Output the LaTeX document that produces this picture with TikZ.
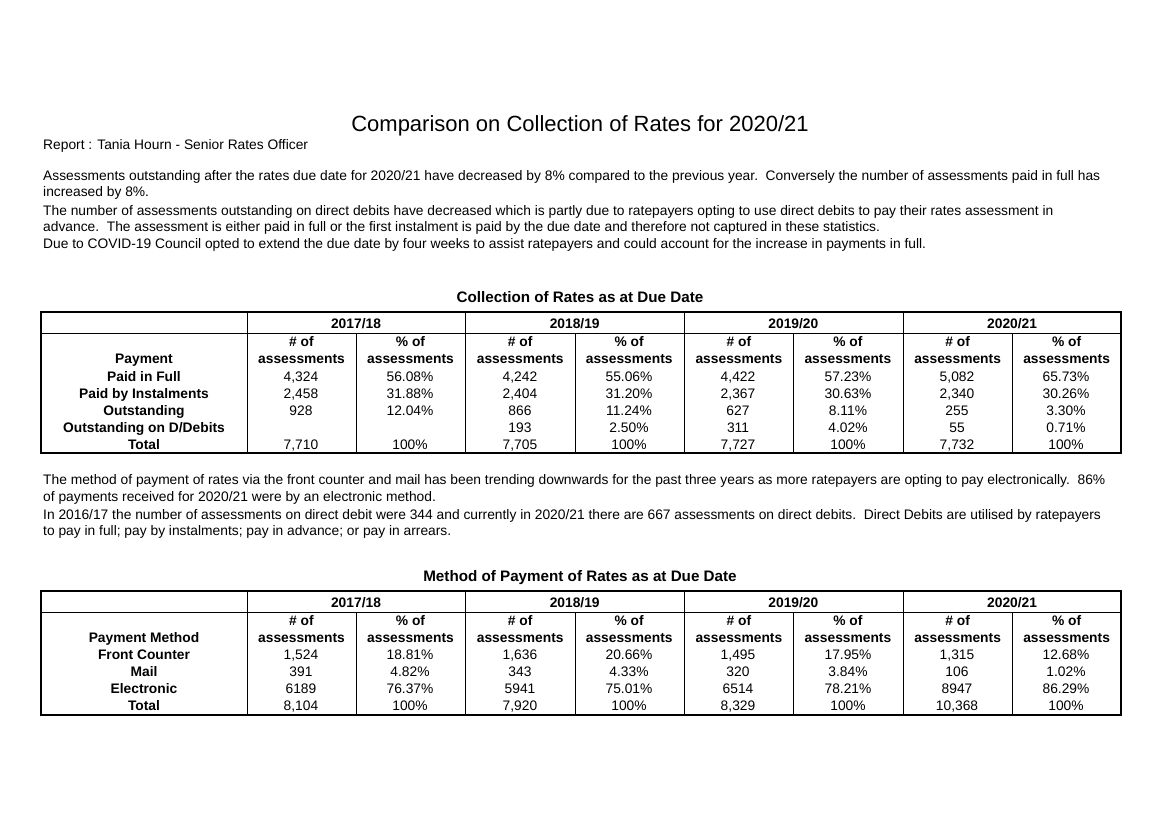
\documentclass[tikz,border=0pt]{standalone}
\usepackage{fontspec}
\setmainfont{Liberation Sans}
\begin{document}
\begin{tikzpicture}[x=1pt,y=-1pt,
  txt/.style={anchor=base west,inner sep=0pt,font=\fontsize{13.8}{16}\selectfont},
  cell/.style={anchor=base,inner sep=0pt,font=\fontsize{13.8}{16}\selectfont},
  bcell/.style={cell,font=\fontsize{13.8}{16}\selectfont\bfseries},
  ttlcell/.style={cell,font=\fontsize{15.2}{17}\selectfont\bfseries},
  grid/.style={line width=0.8pt},
  frame/.style={line width=1.3pt}]
\useasboundingbox[fill=white] (0,0) rectangle (1162,821);
\node[anchor=base,inner sep=0pt,font=\fontsize{22}{26}\selectfont] (title) at (580,132) {Comparison on Collection of Rates for 2020/21};
\node[txt] (rep) at (43,150) {Report : Tania Hourn - Senior Rates Officer};
\node[txt] (p1) at (43,181) {Assessments outstanding after the rates due date for 2020/21 have decreased by 8\% compared to the previous year.\ \ Conversely the number of assessments paid in full has};
\node[txt] (p2) at (43,197) {increased by 8\%.};
\node[txt] (p3) at (43,216) {The number of assessments outstanding on direct debits have decreased which is partly due to ratepayers opting to use direct debits to pay their rates assessment in};
\node[txt] (p4) at (43,232) {advance.\ \ The assessment is either paid in full or the first instalment is paid by the due date and therefore not captured in these statistics.};
\node[txt] (p5) at (43,248) {Due to COVID-19 Council opted to extend the due date by four weeks to assist ratepayers and could account for the increase in payments in full.};
\node[txt] (q1) at (43,484) {The method of payment of rates via the front counter and mail has been trending downwards for the past three years as more ratepayers are opting to pay electronically.\ \ 86\%};
\node[txt] (q2) at (43,501) {of payments received for 2020/21 were by an electronic method.};
\node[txt] (q3) at (43,519) {In 2016/17 the number of assessments on direct debit were 344 and currently in 2020/21 there are 667 assessments on direct debits.\ \ Direct Debits are utilised by ratepayers};
\node[txt] (q4) at (43,535) {to pay in full; pay by instalments; pay in advance; or pay in arrears.};
\foreach \T/\top/\mid/\bot/\ttl in {1/312/333/453/Collection of Rates as at Due Date, 2/591/612/715/Method of Payment of Rates as at Due Date}{
  \node[ttlcell] (tt\T) at (580,\top-10) {\ttl};
  \draw[frame] (41,\top) rectangle (1121,\bot);
  \draw[grid] (41,\mid) -- (1121,\mid);
  \foreach \c in {247,465,684,903} \draw[grid] (\c,\top) -- (\c,\bot);
  \foreach \c in {356,575,793,1012} \draw[grid] (\c,\mid) -- (\c,\bot);
  \foreach \yr [count=\i] in {2017/18,2018/19,2019/20,2020/21}{
    \pgfmathsetmacro\yc{356+(\i-1)*218.7}
    \node[bcell] (yr\T\i) at (\yc,\top+16) {\yr};
    \node[bcell] (na\T\i) at (\yc-54.5,\mid+13) {\# of};
    \node[bcell] (nb\T\i) at (\yc-54.5,\mid+30) {assessments};
    \node[bcell] (pa\T\i) at (\yc+54.5,\mid+13) {\% of};
    \node[bcell] (pb\T\i) at (\yc+54.5,\mid+30) {assessments};
  }
}
\node[bcell] (h1) at (144,363) {Payment};
\node[bcell] (h2) at (144,642) {Payment Method};
\foreach \lab/\a/\b/\c/\d/\e/\f/\g/\h [count=\r] in {
  {Paid in Full}/{4,324}/{56.08\%}/{4,242}/{55.06\%}/{4,422}/{57.23\%}/{5,082}/{65.73\%},
  {Paid by Instalments}/{2,458}/{31.88\%}/{2,404}/{31.20\%}/{2,367}/{30.63\%}/{2,340}/{30.26\%},
  {Outstanding}/{928}/{12.04\%}/{866}/{11.24\%}/{627}/{8.11\%}/{255}/{3.30\%},
  {Outstanding on D/Debits}/{}/{}/{193}/{2.50\%}/{311}/{4.02\%}/{55}/{0.71\%},
  {Total}/{7,710}/{100\%}/{7,705}/{100\%}/{7,727}/{100\%}/{7,732}/{100\%}}{
  \pgfmathsetmacro\yy{381+(\r-1)*17}
  \node[bcell] (ra\r) at (144,\yy) {\lab};
  \foreach \v/\x [count=\k] in {{\a}/301,{\b}/410,{\c}/520,{\d}/629,{\e}/738,{\f}/848,{\g}/957,{\h}/1066}
    \node[cell] (ca\r\k) at (\x,\yy) {\v};
}
\foreach \lab/\a/\b/\c/\d/\e/\f/\g/\h [count=\r] in {
  {Front Counter}/{1,524}/{18.81\%}/{1,636}/{20.66\%}/{1,495}/{17.95\%}/{1,315}/{12.68\%},
  {Mail}/{391}/{4.82\%}/{343}/{4.33\%}/{320}/{3.84\%}/{106}/{1.02\%},
  {Electronic}/{6189}/{76.37\%}/{5941}/{75.01\%}/{6514}/{78.21\%}/{8947}/{86.29\%},
  {Total}/{8,104}/{100\%}/{7,920}/{100\%}/{8,329}/{100\%}/{10,368}/{100\%}}{
  \pgfmathsetmacro\yy{659+(\r-1)*17}
  \node[bcell] (rb\r) at (144,\yy) {\lab};
  \foreach \v/\x [count=\k] in {{\a}/301,{\b}/410,{\c}/520,{\d}/629,{\e}/738,{\f}/848,{\g}/957,{\h}/1066}
    \node[cell] (cb\r\k) at (\x,\yy) {\v};
}
\end{tikzpicture}
\end{document}
